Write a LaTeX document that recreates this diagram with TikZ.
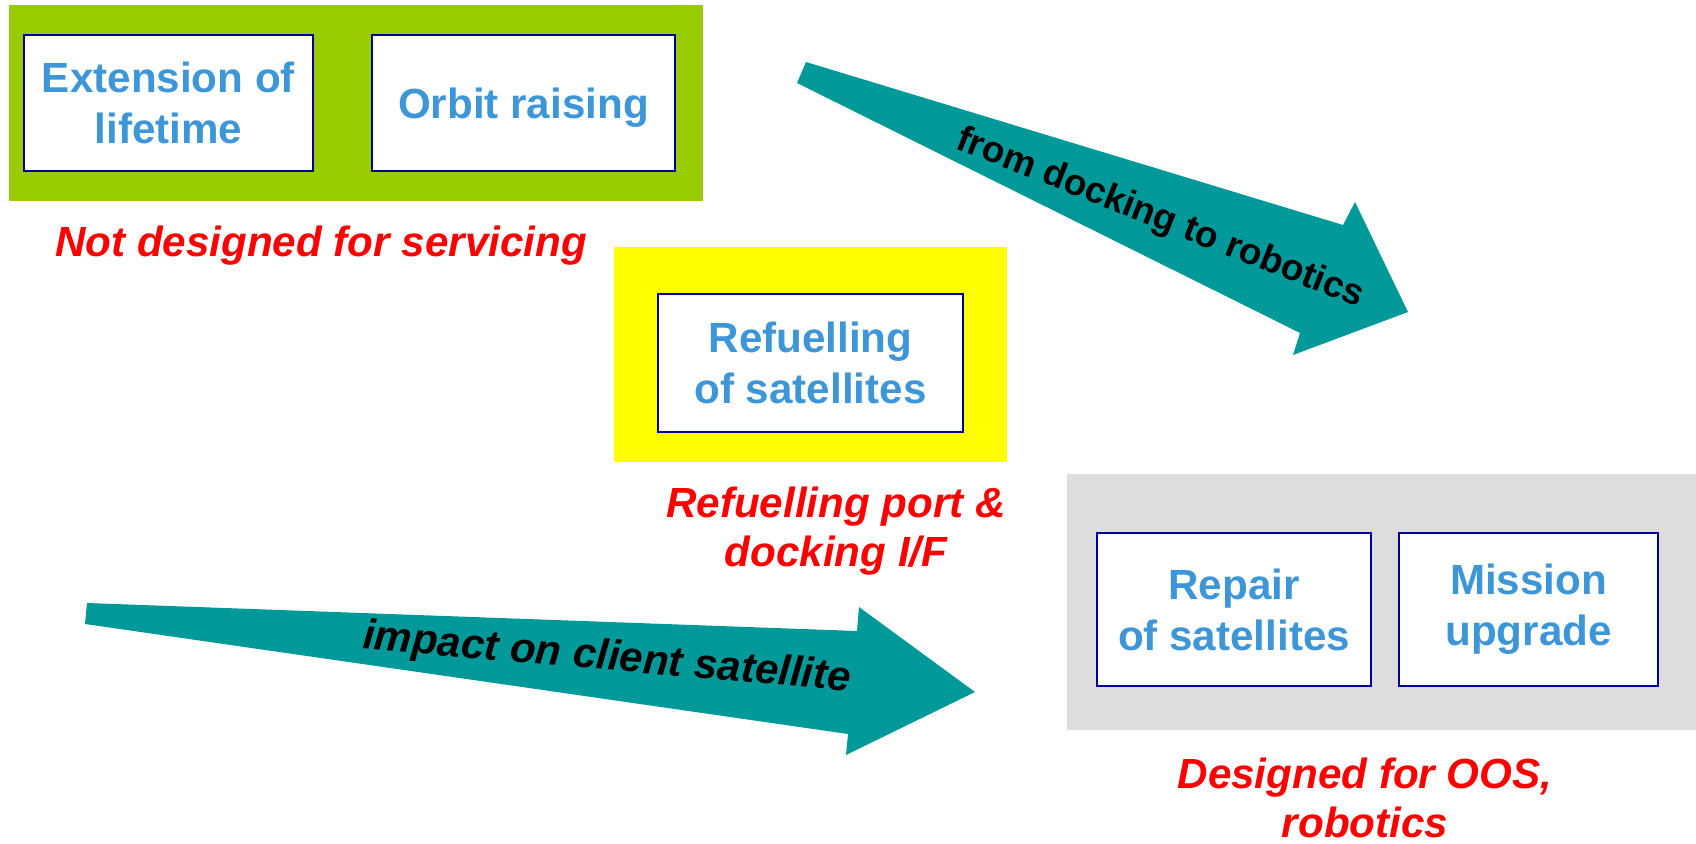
\documentclass[tikz,border=0pt]{standalone}
\usepackage{fontspec}
\setmainfont{Liberation Sans}
\usepackage{tikz}

\definecolor{boxblue}{RGB}{0,0,153}
\definecolor{textblue}{RGB}{61,150,216}
\definecolor{panelgreen}{RGB}{153,204,0}
\definecolor{panelyellow}{RGB}{255,255,0}
\definecolor{panelgray}{RGB}{221,221,221}
\definecolor{arrowteal}{RGB}{0,153,153}

\begin{document}
\begin{tikzpicture}[x=0.02cm, y=-0.02cm,
	panel/.style={inner sep=0pt, outer sep=0pt},
	task/.style={draw=boxblue, line width=1.1pt, fill=white, text=textblue, inner sep=0pt, align=center, font=\bfseries\fontsize{24}{29}\selectfont},
	note/.style={text=red, inner sep=0pt, align=center, font=\bfseries\itshape\fontsize{24}{28}\selectfont},
	arrowtext/.style={inner sep=0pt, font=\bfseries\fontsize{21}{25}\selectfont}]
	\useasboundingbox (0,0) rectangle (1696,844);

	% Not designed for servicing
	\node[panel, fill=panelgreen, minimum width=13.9cm, minimum height=3.92cm] (greenpanel) at (356,103) {};
	\node[task, minimum width=5.78cm, minimum height=2.72cm] (lifetime) at (168.5,103) {Extension of\\lifetime};
	\node[task, text depth=0pt, minimum width=6.06cm, minimum height=2.72cm] (orbit) at (523.5,103) {Orbit raising};
	\node[note, anchor=base] (notdesigned) at (321,257) {Not designed for servicing};

	% Refuelling
	\node[panel, fill=panelyellow, minimum width=7.86cm, minimum height=4.3cm] (yellowpanel) at (810.5,354.5) {};
	\node[task, minimum width=6.1cm, minimum height=2.76cm] (refuel) at (810.5,363) {Refuelling\\of satellites};
	\node[note] (port) at (836,531) {Refuelling port \&\\docking I/F};

	% Designed for OOS
	\node[panel, fill=panelgray, minimum width=12.58cm, minimum height=5.12cm] (graypanel) at (1381.5,602) {};
	\node[task, minimum width=5.48cm, minimum height=3.06cm] (repair) at (1234,609.5) {Repair\\of satellites};
	\node[task, minimum width=5.18cm, minimum height=3.06cm] (upgrade) at (1528.5,609.5) {Mission\\upgrade};
	\node[note] (oos) at (1365,798) {Designed for OOS,\\robotics};

	% Arrow from docking to robotics
	\coordinate (dtaila) at (806,62);
	\coordinate (dshafta) at (1343,225);
	\coordinate (dheada) at (1355,202);
	\coordinate (dtip) at (1408,312);
	\coordinate (dheadb) at (1293,355);
	\coordinate (dshaftb) at (1300,333);
	\coordinate (dtailb) at (797,83);
	\fill[arrowteal] (dtaila) -- (dshafta) -- (dheada) -- (dtip) -- (dheadb) -- (dshaftb) -- (dtailb) -- cycle;
	\node[arrowtext, rotate=-21.5] (docking) at (1160,219) {from docking to robotics};

	% Arrow for impact on client
	\coordinate (itaila) at (87,603);
	\coordinate (ishafta) at (857,631);
	\coordinate (iheada) at (859,607);
	\coordinate (itip) at (975,692);
	\coordinate (iheadb) at (846,755);
	\coordinate (ishaftb) at (848,734);
	\coordinate (itailb) at (85,624);
	\fill[arrowteal] (itaila) -- (ishafta) -- (iheada) -- (itip) -- (iheadb) -- (ishaftb) -- (itailb) -- cycle;
	\node[arrowtext, font=\bfseries\itshape\fontsize{24}{28}\selectfont, rotate=-5] (impact) at (607,659) {impact on client satellite};
\end{tikzpicture}
\end{document}
